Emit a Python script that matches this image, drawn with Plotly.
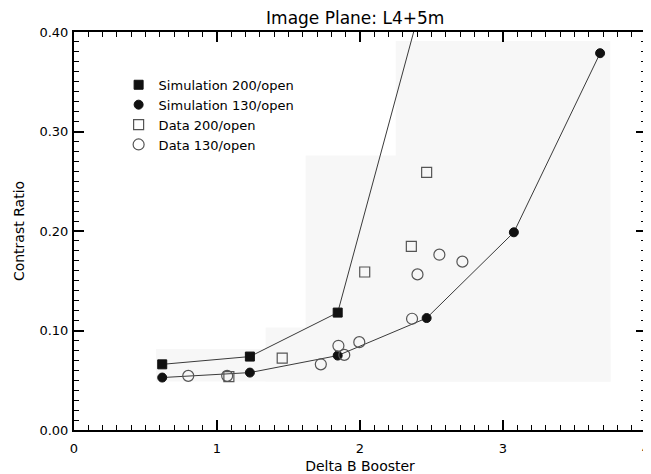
import plotly.graph_objects as go

# ---- data ----
sim200_x = [0.617, 1.23, 1.844, 2.46]
sim200_y = [0.066, 0.0738, 0.118, 0.445]

sim130_x = [0.617, 1.23, 1.844, 2.466, 3.076, 3.679]
sim130_y = [0.0527, 0.0577, 0.0748, 0.1125, 0.1987, 0.3787]

data200_x = [1.083, 1.456, 2.033, 2.359, 2.466]
data200_y = [0.0537, 0.0722, 0.1588, 0.1846, 0.259]

data130_x = [0.799, 1.071, 1.726, 1.849, 1.89, 1.995, 2.364, 2.402, 2.555, 2.716]
data130_y = [0.0544, 0.0544, 0.066, 0.0846, 0.0755, 0.0883, 0.1118, 0.1564, 0.1762, 0.1692]

x_ticks = [0, 1, 2, 3, 4]
x_ticklabels = ["0", "1", "2", "3", "4"]
y_ticks = [0.0, 0.1, 0.2, 0.3, 0.4]
y_ticklabels = ["0.00", "0.10", "0.20", "0.30", "0.40"]

title = "Image Plane: L4+5m"
xlabel = "Delta B Booster"
ylabel = "Contrast Ratio"

FONT = "DejaVu Sans"
LINE = "#3a3a3a"

fig = go.Figure()

# connecting lines (not in legend)
fig.add_trace(go.Scatter(x=sim200_x, y=sim200_y, mode="lines",
                         line=dict(color=LINE, width=1), showlegend=False, hoverinfo="skip"))
fig.add_trace(go.Scatter(x=sim130_x, y=sim130_y, mode="lines",
                         line=dict(color=LINE, width=1), showlegend=False, hoverinfo="skip"))

# markers
fig.add_trace(go.Scatter(x=sim200_x, y=sim200_y, mode="markers", name="Simulation 200/open",
                         marker=dict(symbol="square", size=9, color="#111111",
                                     line=dict(color="#111111", width=1)), cliponaxis=True))
fig.add_trace(go.Scatter(x=sim130_x, y=sim130_y, mode="markers", name="Simulation 130/open",
                         marker=dict(symbol="circle", size=9, color="#111111",
                                     line=dict(color="#111111", width=1)), cliponaxis=True))
fig.add_trace(go.Scatter(x=data200_x, y=data200_y, mode="markers", name="Data 200/open",
                         marker=dict(symbol="square-open", size=10, color="#555555",
                                     line=dict(width=1.2)), cliponaxis=True))
fig.add_trace(go.Scatter(x=data130_x, y=data130_y, mode="markers", name="Data 130/open",
                         marker=dict(symbol="circle-open", size=11, color="#555555",
                                     line=dict(width=1.2)), cliponaxis=True))

# faint scanned-background patches
bg = "#f7f7f7"
for x0, x1, y0, y1 in [(0.574, 3.75, 0.0487, 0.0815),
                       (1.34, 3.75, 0.0487, 0.103),
                       (1.62, 3.75, 0.0487, 0.276),
                       (2.25, 3.75, 0.0487, 0.391)]:
    fig.add_shape(type="rect", xref="x", yref="y", x0=x0, x1=x1, y0=y0, y1=y1,
                  fillcolor=bg, line=dict(width=0), layer="below")

axis_common = dict(
    showline=True, linecolor="black", linewidth=2, mirror="ticks",
    ticks="inside", ticklen=10, tickwidth=1.5, tickcolor="black",
    showgrid=False, zeroline=False, automargin=False,
    tickfont=dict(family=FONT, size=13, color="black"),
)

# page body adds an 8px offset; figure sized/margined to compensate
fig.update_layout(
    width=643, height=466,
    margin=dict(l=66, r=5, t=24, b=44),
    paper_bgcolor="white", plot_bgcolor="white",
    font=dict(family=FONT, color="black"),
    title=dict(text=title, x=0.54, xanchor="center", xref="container",
               y=0.978, yanchor="middle", yref="container",
               automargin=False, font=dict(family=FONT, size=17, color="black")),
    xaxis=dict(range=[0, 4], tickvals=x_ticks, ticktext=x_ticklabels,
               ticklabelstandoff=5,
               minor=dict(dtick=0.1, ticks="inside", ticklen=5, tickcolor="black", tickwidth=1),
               title=dict(text=xlabel, font=dict(family=FONT, size=14), standoff=11),
               **axis_common),
    yaxis=dict(range=[0, 0.4], tickvals=y_ticks, ticktext=y_ticklabels,
               ticklabelstandoff=1,
               minor=dict(dtick=0.01, ticks="inside", ticklen=5, tickcolor="black", tickwidth=1),
               title=dict(text=ylabel, font=dict(family=FONT, size=14), standoff=12),
               **axis_common),
    legend=dict(x=0.078, y=0.905, xanchor="left", yanchor="top",
                bgcolor="rgba(0,0,0,0)", font=dict(family=FONT, size=13, color="black"),
                itemwidth=30, tracegroupgap=0),
    showlegend=True,
)

fig.write_html("out.html")
